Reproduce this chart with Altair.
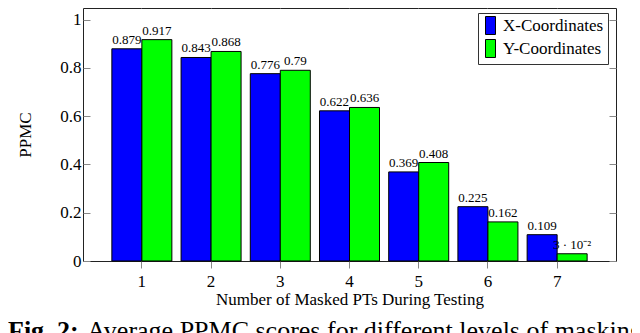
import altair as alt
import pandas as pd

# ---- data ----
categories = [1, 2, 3, 4, 5, 6, 7]
x_coords = [0.879, 0.843, 0.776, 0.622, 0.369, 0.225, 0.109]
y_coords = [0.917, 0.868, 0.79, 0.636, 0.408, 0.162, 0.03]
x_labels = ["0.879", "0.843", "0.776", "0.622", "0.369", "0.225", "0.109"]
y_labels = ["0.917", "0.868", "0.79", "0.636", "0.408", "0.162", "3 · 10⁻²"]
series = ["X-Coordinates", "Y-Coordinates"]
colors = ["#0000ff", "#00ff00"]
y_ticks = [0, 0.2, 0.4, 0.6, 0.8, 1]
caption_bold = "Fig. 2:"
caption_rest = "Average PPMC scores for different levels of masking"

rows = []
for i, c in enumerate(categories):
    rows.append({"n": c, "series": series[0], "ppmc": x_coords[i], "label": x_labels[i]})
    rows.append({"n": c, "series": series[1], "ppmc": y_coords[i], "label": y_labels[i]})
df = pd.DataFrame(rows)
cap_df = pd.DataFrame({"bold": [caption_bold], "rest": [caption_rest]})

W, H = 533, 253
FONT = "Liberation Serif"
TICK = "#888888"

x_scale = alt.Scale(paddingInner=0.133, paddingOuter=0.417)
off_scale = alt.Scale(paddingInner=0, paddingOuter=0)
y_scale = alt.Scale(domain=[0, 1.048], nice=False, zero=True)
color_scale = alt.Scale(domain=series, range=colors)

bars = alt.Chart(df).mark_bar(stroke="black", strokeWidth=1, opacity=1).encode(
    x=alt.X("n:O", scale=x_scale, axis=alt.Axis(
        title="Number of Masked PTs During Testing", orient="bottom", labelAngle=0,
        tickSize=7, labelPadding=5, domain=False, tickColor=TICK,
        labelFont=FONT, labelFontSize=17, labelColor="black",
        titleFont=FONT, titleFontSize=17, titleFontWeight="normal", titleColor="black",
        titleY=43, titleBaseline="alphabetic")),
    xOffset=alt.XOffset("series:N", sort=series, scale=off_scale),
    y=alt.Y("ppmc:Q", scale=y_scale, axis=alt.Axis(
        title="PPMC", orient="left", values=y_ticks, format="~g", ticks=False,
        domain=False, grid=False, labelPadding=2,
        labelFont=FONT, labelFontSize=17, labelColor="black",
        titleFont=FONT, titleFontSize=17, titleFontWeight="normal", titleColor="black",
        titleX=-58, titleY=H / 2, titleBaseline="middle", titleAngle=270)),
    color=alt.Color("series:N", scale=color_scale, sort=series, legend=alt.Legend(
        title=None, orient="none", legendX=395, legendY=5, direction="vertical",
        strokeColor="#333333", fillColor="white", padding=4,
        symbolType="M-1,-1.8H1V1.8H-1Z", symbolSize=100,
        symbolStrokeColor="black", symbolStrokeWidth=1, symbolOpacity=1,
        labelFont=FONT, labelFontSize=17, labelColor="black", labelOffset=4,
        rowPadding=0)),
)

labels = alt.Chart(df).mark_text(
    font=FONT, fontSize=13, baseline="alphabetic", dy=-5, color="black"
).encode(
    x=alt.X("n:O", scale=x_scale, axis=alt.Axis(
        orient="top", labels=False, title=None, tickSize=7, domain=False, tickColor=TICK)),
    xOffset=alt.XOffset("series:N", sort=series, scale=off_scale),
    y=alt.Y("ppmc:Q", scale=y_scale, axis=alt.Axis(
        orient="right", offset=-W, labels=False, title=None, tickSize=7,
        domain=False, grid=False, values=y_ticks, tickColor=TICK)),
    text="label:N",
)

right_ticks = alt.Chart(df).mark_tick(opacity=0).encode(
    y=alt.Y("ppmc:Q", scale=y_scale, axis=alt.Axis(
        orient="left", offset=-W, labels=False, title=None, tickSize=7,
        domain=False, grid=False, values=y_ticks, tickColor=TICK)),
)

cap1 = alt.Chart(cap_df).mark_text(
    font=FONT, fontSize=26, fontWeight="bold", align="left", baseline="alphabetic", color="black"
).encode(x=alt.value(-75), y=alt.value(331), text="bold:N")

cap2 = alt.Chart(cap_df).mark_text(
    font=FONT, fontSize=26, fontWeight="normal", align="left", baseline="alphabetic", color="black"
).encode(x=alt.value(4), y=alt.value(331), text="rest:N")

chart = alt.layer(bars, labels, right_ticks, cap1, cap2).resolve_axis(
    x="independent", y="independent"
).properties(
    width=W, height=H,
    autosize=alt.AutoSizeParams(type="none"),
    padding={"left": 75, "top": 0, "right": 16, "bottom": 72},
).configure_view(stroke="#222222", strokeWidth=1)

chart.save("out.html", embed_options={"renderer": "svg", "actions": False})
